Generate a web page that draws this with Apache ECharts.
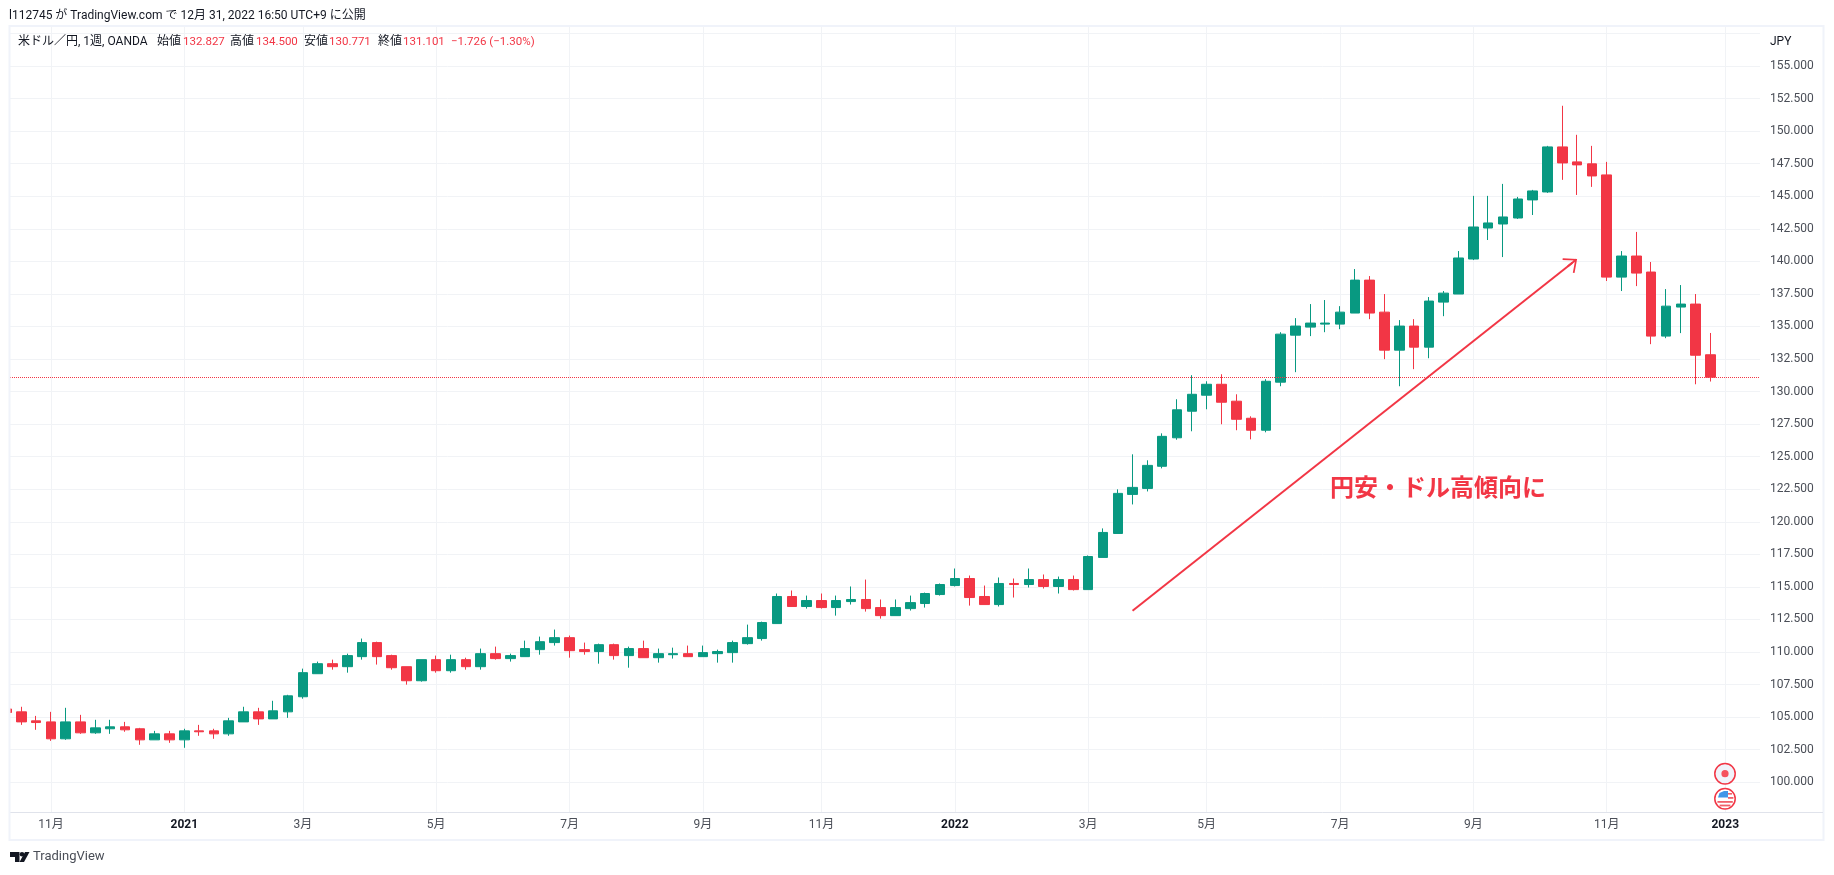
<!DOCTYPE html>
<html lang="ja">
<head>
<meta charset="utf-8">
<title>USD/JPY weekly</title>
<script src="https://cdn.jsdelivr.net/npm/echarts@6/dist/echarts.min.js"></script>
<style>
  html, body { margin: 0; padding: 0; background: #fff; }
  #chart { width: 1834px; height: 875px; }
</style>
</head>
<body>
<div id="chart"></div>
<script>
// weekly bars, monday of each week
const weeks = [
  '2020-10-12','2020-10-19','2020-10-26','2020-11-02','2020-11-09','2020-11-16','2020-11-23','2020-11-30','2020-12-07','2020-12-14',
  '2020-12-21','2020-12-28','2021-01-04','2021-01-11','2021-01-18','2021-01-25','2021-02-01','2021-02-08','2021-02-15','2021-02-22',
  '2021-03-01','2021-03-08','2021-03-15','2021-03-22','2021-03-29','2021-04-05','2021-04-12','2021-04-19','2021-04-26','2021-05-03',
  '2021-05-10','2021-05-17','2021-05-24','2021-05-31','2021-06-07','2021-06-14','2021-06-21','2021-06-28','2021-07-05','2021-07-12',
  '2021-07-19','2021-07-26','2021-08-02','2021-08-09','2021-08-16','2021-08-23','2021-08-30','2021-09-06','2021-09-13','2021-09-20',
  '2021-09-27','2021-10-04','2021-10-11','2021-10-18','2021-10-25','2021-11-01','2021-11-08','2021-11-15','2021-11-22','2021-11-29',
  '2021-12-06','2021-12-13','2021-12-20','2021-12-27','2022-01-03','2022-01-10','2022-01-17','2022-01-24','2022-01-31','2022-02-07',
  '2022-02-14','2022-02-21','2022-02-28','2022-03-07','2022-03-14','2022-03-21','2022-03-28','2022-04-04','2022-04-11','2022-04-18',
  '2022-04-25','2022-05-02','2022-05-09','2022-05-16','2022-05-23','2022-05-30','2022-06-06','2022-06-13','2022-06-20','2022-06-27',
  '2022-07-04','2022-07-11','2022-07-18','2022-07-25','2022-08-01','2022-08-08','2022-08-15','2022-08-22','2022-08-29','2022-09-05',
  '2022-09-12','2022-09-19','2022-09-26','2022-10-03','2022-10-10','2022-10-17','2022-10-24','2022-10-31','2022-11-07','2022-11-14',
  '2022-11-21','2022-11-28','2022-12-05','2022-12-12','2022-12-19','2022-12-26'
];
const opens = [
  105.62,105.40,104.71,104.63,103.33,104.63,103.79,104.10,104.25,104.10,
  103.25,103.71,103.25,103.94,103.94,103.71,104.63,105.40,104.86,105.40,
  106.56,108.33,109.10,108.87,109.64,110.72,109.72,108.87,107.79,109.41,
  108.56,109.41,108.87,109.87,109.49,109.64,110.18,110.72,111.10,110.18,
  110.03,110.56,109.72,110.26,109.56,109.79,109.87,109.64,109.87,109.95,
  110.64,111.03,112.18,114.26,113.49,113.95,113.41,113.87,114.03,113.41,
  112.79,113.33,113.72,114.41,115.10,115.64,114.26,113.64,115.26,115.18,
  115.56,115.03,115.56,114.79,117.26,119.10,122.10,122.56,124.26,126.45,
  128.49,129.72,130.56,129.26,127.95,127.03,130.72,134.33,134.95,135.18,
  135.18,136.03,138.56,136.10,133.18,135.03,133.41,136.87,137.49,140.18,
  142.56,142.87,143.33,144.72,145.33,148.79,147.64,147.49,146.64,138.79,
  140.41,139.18,134.26,136.49,136.72,132.827
];
const closes = [
  105.35,104.63,104.58,103.33,104.63,103.79,104.17,104.25,104.02,103.25,
  103.71,103.25,103.94,103.87,103.71,104.71,105.40,104.86,105.48,106.63,
  108.41,109.10,108.87,109.72,110.72,109.64,108.79,107.79,109.41,108.56,
  109.41,108.87,109.87,109.49,109.72,110.26,110.79,111.10,110.10,110.03,
  110.56,109.72,110.26,109.56,109.87,109.87,109.64,109.95,110.03,110.72,
  111.10,112.26,114.26,113.49,113.95,113.41,113.95,114.03,113.33,112.79,
  113.41,113.79,114.49,115.18,115.64,114.18,113.64,115.26,115.18,115.56,
  115.03,115.56,114.79,117.33,119.18,122.18,122.64,124.33,126.56,128.60,
  129.79,130.56,129.18,127.87,127.03,130.79,134.41,135.03,135.26,135.26,
  136.10,138.56,136.03,133.18,135.03,133.41,136.95,137.56,140.26,142.64,
  142.95,143.41,144.79,145.41,148.79,147.56,147.41,146.56,138.79,140.41,
  139.10,134.26,136.56,136.72,132.79,131.101
];
const lows = [
  105.20,104.40,104.02,103.17,103.25,103.71,103.71,103.71,103.87,102.87,
  103.25,103.02,102.64,103.56,103.33,103.56,104.63,104.40,104.86,104.94,
  106.41,108.33,108.64,108.41,109.41,109.03,108.64,107.49,107.72,108.41,
  108.41,108.64,108.64,109.41,109.26,109.64,109.79,110.49,109.56,109.79,
  109.10,109.41,108.79,109.56,109.18,109.49,109.64,109.64,109.18,109.18,
  110.56,110.87,112.18,113.49,113.33,113.33,112.79,113.64,113.10,112.56,
  112.79,113.18,113.41,114.33,115.03,113.56,113.64,113.49,114.18,114.95,
  114.87,114.49,114.72,114.79,117.26,119.10,121.33,122.33,124.10,126.30,
  126.95,128.64,127.49,127.03,126.33,126.87,130.41,131.49,134.26,134.56,
  134.79,136.03,135.56,132.49,130.41,131.72,132.56,135.79,137.49,140.10,
  141.64,140.33,143.26,143.56,145.26,146.26,145.10,145.72,138.49,137.72,
  138.10,133.64,134.10,134.49,130.56,130.771
];
const highs = [
  105.70,105.79,105.09,105.40,105.71,105.17,104.79,104.79,104.63,104.17,
  103.94,103.94,104.10,104.40,104.10,104.94,105.79,105.71,106.25,106.71,
  108.72,109.26,109.41,109.87,111.03,110.79,109.79,108.87,109.41,109.72,
  109.79,109.56,110.26,110.41,109.87,110.87,111.18,111.72,111.26,110.72,
  110.64,110.64,110.41,110.87,110.26,110.33,110.49,110.49,110.18,110.87,
  112.10,112.33,114.49,114.72,114.33,114.49,114.33,115.03,115.56,114.03,
  114.03,114.33,114.56,115.26,116.41,115.87,115.10,115.72,115.64,116.41,
  115.95,115.79,115.87,117.41,119.49,122.49,125.18,124.72,126.79,129.41,
  131.26,130.79,131.33,129.79,128.10,130.95,134.56,135.64,136.72,137.03,
  136.56,139.41,138.87,137.49,135.49,135.56,137.26,137.72,140.79,145.03,
  145.03,145.95,144.95,145.49,148.87,151.95,149.72,148.87,147.64,140.79,
  142.26,139.95,137.87,138.18,137.49,134.50
];

// month ticks on the date scale
const tickDates = ['2020-11-02','2021-01-04','2021-03-01','2021-05-03','2021-07-05','2021-09-06','2021-11-01',
  '2022-01-03','2022-03-07','2022-05-02','2022-07-04','2022-09-05','2022-11-07','2023-01-02'];
const tickLabels = ['11月','2021','3月','5月','7月','9月','11月','2022','3月','5月','7月','9月','11月','2023'];
const priceTicks = [100,102.5,105,107.5,110,112.5,115,117.5,120,122.5,125,127.5,130,132.5,135,137.5,140,142.5,145,147.5,150,152.5,155];
const lastClose = 131.101;
const arrowFrom = ['2022-03-28', 113.17];
const arrowTo = ['2022-10-21 19:00', 139.9];

const RED = '#F23645';
const GREEN = '#089981';
const GRID = '#f1f3f6';
const FONT = 'Roboto, "Noto Sans CJK JP", sans-serif';

const toTime = s => +echarts.time.parse(s);
const tickTimes = tickDates.map(toTime);
const candles = weeks.map((w, i) => [toTime(w), opens[i], closes[i], lows[i], highs[i]]);

// open arrow head, points up, the library turns it along the line
const arrowHead = 'path://M0 0L10 11L8.7 12.2L0 2.6L-8.7 12.2L-10 11ZM-1 1L1 1L1 12L-1 12Z';

function label(x, y, text, fill, extra) {
    return {
        type: 'text', x: x, y: y, silent: true,
        style: Object.assign({ text: text, fill: fill, font: '12px ' + FONT, verticalAlign: 'middle' }, extra)
    };
}

const small = { font: '11.5px ' + FONT };

const frame = [
    // candlesticks are not clipped by the grid, hide what sticks out on the left
    { type: 'rect', silent: true, shape: { x: 0, y: 600, width: 9.5, height: 200 }, style: { fill: '#fff' } },
    { type: 'rect', silent: true, shape: { x: 9.5, y: 26, width: 1814, height: 814 },
      style: { fill: 'none', stroke: '#f0f3fa', lineWidth: 2 } },
    { type: 'line', silent: true, shape: { x1: 1760, y1: 812.5, x2: 1823, y2: 812.5 },
      style: { stroke: '#e0e3eb', lineWidth: 1 } }
];

const headerTexts = [
    label(9, 16, 'l112745 が TradingView.com で 12月 31, 2022 16:50 UTC+9 に公開', '#131722'),
    label(18, 42, '米ドル／円, 1週, OANDA', '#131722'),
    label(157, 42, '始値', '#131722'),
    label(183, 42, '132.827', RED, small),
    label(230, 42, '高値', '#131722'),
    label(256, 42, '134.500', RED, small),
    label(304, 42, '安値', '#131722'),
    label(329, 42, '130.771', RED, small),
    label(378, 42, '終値', '#131722'),
    label(403, 42, '131.101', RED, small),
    label(451, 42, '−1.726 (−1.30%)', RED, small),
    label(1770, 41.5, 'JPY', '#131722'),
    label(1330, 487, '円安・ドル高傾向に', RED, { font: 'bold 24px "Noto Sans CJK JP", sans-serif' }),
    label(33, 857, 'TradingView', '#4a4e57', { font: '13px ' + FONT })
];

const logo = [
    { type: 'polygon', silent: true, shape: { points: [[10,852],[19.5,852],[19.5,862],[15,862],[15,857],[10,857]] }, style: { fill: '#131722' } },
    { type: 'circle', silent: true, shape: { cx: 22, cy: 854.3, r: 2.3 }, style: { fill: '#131722' } },
    { type: 'polygon', silent: true, shape: { points: [[24,862],[19.5,862],[25,852],[29.5,852]] }, style: { fill: '#131722' } }
];

// event badges above the time scale
const badges = [
    { type: 'circle', silent: true, shape: { cx: 1725, cy: 773.7, r: 10.2 }, style: { fill: '#f0f3fa', stroke: RED, lineWidth: 1.5 } },
    { type: 'circle', silent: true, shape: { cx: 1725, cy: 773.7, r: 3.6 }, style: { fill: '#f5515d' } },
    { type: 'circle', silent: true, shape: { cx: 1725, cy: 798.7, r: 10.2 }, style: { fill: '#fff', stroke: RED, lineWidth: 1.5 } },
    { type: 'polygon', silent: true, shape: { points: [[1718,797.5],[1719.5,793],[1724,791],[1728,791],[1728,797.5]] }, style: { fill: '#3f96e8' } },
    { type: 'rect', silent: true, shape: { x: 1728, y: 793, width: 4, height: 1.6 }, style: { fill: '#f0606a' } },
    { type: 'rect', silent: true, shape: { x: 1728, y: 797, width: 5.4, height: 1.8 }, style: { fill: '#f0606a' } },
    { type: 'rect', silent: true, shape: { x: 1717.4, y: 801, width: 15.4, height: 1.8 }, style: { fill: '#f0606a' } },
    { type: 'rect', silent: true, shape: { x: 1719.6, y: 804.6, width: 10.8, height: 1.8 }, style: { fill: '#f0606a' } }
];

const overlay = frame.concat(headerTexts, logo, badges).map(el => Object.assign(el, { z: 10, zlevel: 1 }));

const chart = echarts.init(document.getElementById('chart'));

chart.setOption({
    animation: false,
    backgroundColor: '#fff',
    grid: { left: 10, top: 27, width: 1750, height: 785.5 },
    xAxis: {
        // plain numeric scale holding the dates in ms, custom ticks need it
        type: 'value',
        min: toTime('2020-10-13 16:00'),
        max: toTime('2023-01-18 10:00'),
        axisLine: { onZero: false, lineStyle: { color: '#e0e3eb', width: 1 } },
        axisTick: { show: false, customValues: tickTimes },
        splitLine: { show: true, lineStyle: { color: GRID, width: 1 } },
        axisLabel: {
            customValues: tickTimes,
            margin: 6,
            hideOverlap: false,
            color: '#4a4e57',
            fontFamily: FONT,
            fontSize: 12,
            formatter: function (value) {
                const text = tickLabels[tickTimes.indexOf(value)];
                return /^\d{4}$/.test(text) ? '{year|' + text + '}' : text;
            },
            rich: { year: { color: '#131722', fontWeight: 'bold', fontFamily: FONT, fontSize: 12 } }
        }
    },
    yAxis: {
        type: 'value',
        position: 'right',
        min: 97.67,
        max: 158,
        axisLine: { show: false },
        axisTick: { show: false, customValues: priceTicks.concat(157.5) },
        splitLine: { show: true, lineStyle: { color: GRID, width: 1 } },
        axisLabel: {
            customValues: priceTicks,
            margin: 10,
            color: '#4a4e57',
            fontFamily: FONT,
            fontSize: 12,
            formatter: value => value.toFixed(3)
        }
    },
    series: [
        {
            type: 'candlestick',
            data: candles,
            encode: { x: 0, y: [1, 2, 3, 4] },
            barWidth: 10,
            itemStyle: { color: GREEN, color0: RED, borderColor: GREEN, borderColor0: RED, borderWidth: 1 },
            markLine: {
                silent: true,
                animation: false,
                label: { show: false },
                symbol: ['none', 'none'],
                data: [
                    { yAxis: lastClose, lineStyle: { color: RED, type: 'dotted', width: 1 } },
                    [
                        { coord: [toTime(arrowFrom[0]), arrowFrom[1]], symbol: 'none', lineStyle: { color: RED, type: 'solid', width: 2 } },
                        { coord: [toTime(arrowTo[0]), arrowTo[1]], symbol: arrowHead, symbolSize: [19, 12] }
                    ]
                ]
            }
        }
    ],
    graphic: { zlevel: 1, z: 10, elements: overlay }
});
</script>
</body>
</html>
